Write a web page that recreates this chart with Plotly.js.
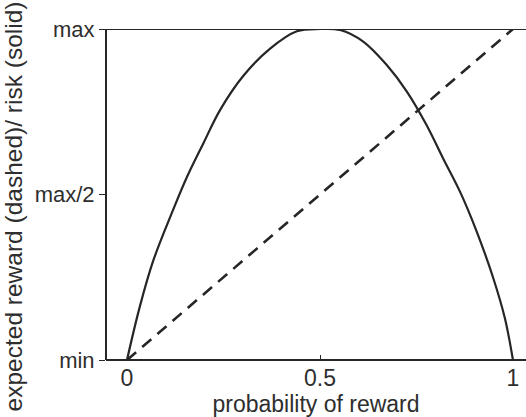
<!DOCTYPE html>
<html>
<head>
<meta charset="utf-8">
<script src="https://cdn.plot.ly/plotly-3.0.1.min.js"></script>
<style>html,body{margin:0;padding:0;background:#fff;}</style>
</head>
<body>
<div id="chart" style="width:526px;height:417px;"></div>
<script>
// probability of reward (x) and risk (solid curve, normalised 0=min .. 1=max)
var riskP = [0, 0.032, 0.068, 0.12, 0.155, 0.198, 0.241, 0.301, 0.37, 0.44, 0.5, 0.552, 0.612, 0.673, 0.725, 0.776, 0.819, 0.863, 0.906, 0.949, 0.979, 1.0];
var riskY = [0, 0.156, 0.3, 0.455, 0.552, 0.655, 0.755, 0.858, 0.94, 0.993, 1.0, 0.997, 0.962, 0.891, 0.811, 0.71, 0.609, 0.508, 0.388, 0.247, 0.126, 0];
// expected reward (dashed line)
var rewardP = [0, 1];
var rewardY = [0, 1];
// tick labels
var xTickVals = [0, 0.5, 1];
var xTickText = ['0', '0.5', '1'];
var yTickVals = [0, 0.5, 1];
var yTickText = ['min', 'max/2', 'max'];

var lineColor = '#262626';
var textColor = '#2e2e2e';
var fontFam = '"Liberation Sans", Arial, Helvetica, sans-serif';

var traces = [
  {x: rewardP, y: rewardY, mode: 'lines', line: {color: lineColor, width: 2.6, dash: '12px,8px'}, hoverinfo: 'none'},
  {x: riskP, y: riskY, mode: 'lines', line: {color: lineColor, width: 2.2, shape: 'spline', smoothing: 1}, hoverinfo: 'none'}
];

// plot area: y=1 at 29px, y=0 at 360px; extra 24px below so the y title centres like the reference
var yLow = -24 / 331;

var layout = {
  width: 526, height: 417,
  margin: {l: 106, r: 0, t: 29, b: 33, pad: 0},
  paper_bgcolor: '#fff', plot_bgcolor: '#fff',
  showlegend: false,
  font: {family: fontFam, color: textColor, size: 22},
  xaxis: {
    range: [-0.0544, 1.0337],
    anchor: 'free', position: 24 / 355,
    tickvals: xTickVals, ticktext: xTickText,
    ticks: 'inside', ticklen: 4, tickcolor: lineColor, tickwidth: 1,
    showline: true, linecolor: lineColor, linewidth: 2,
    showgrid: false, zeroline: false,
    tickfont: {size: 23, color: textColor},
    ticklabelstandoff: -3,
    title: {text: 'probability of reward', font: {size: 23, color: textColor}, standoff: 1},
    automargin: false
  },
  yaxis: {
    range: [yLow, 1],
    tickvals: yTickVals, ticktext: yTickText,
    ticks: 'outside', ticklen: 6, tickcolor: lineColor, tickwidth: 1,
    showline: false,
    showgrid: false, zeroline: false,
    tickfont: {size: 22, color: textColor},
    title: {text: 'expected reward (dashed)/ risk (solid)', font: {size: 24.5, color: textColor}, standoff: 5},
    automargin: false
  },
  shapes: [
    {type: 'line', xref: 'x domain', yref: 'y', x0: 0, x1: 0, y0: 0, y1: 1, line: {color: lineColor, width: 2}},
    {type: 'line', xref: 'x domain', yref: 'y', x0: 0, x1: 1, y0: 1, y1: 1, line: {color: lineColor, width: 2}}
  ]
};

Plotly.newPlot('chart', traces, layout, {displayModeBar: false, staticPlot: true});
</script>
</body>
</html>
